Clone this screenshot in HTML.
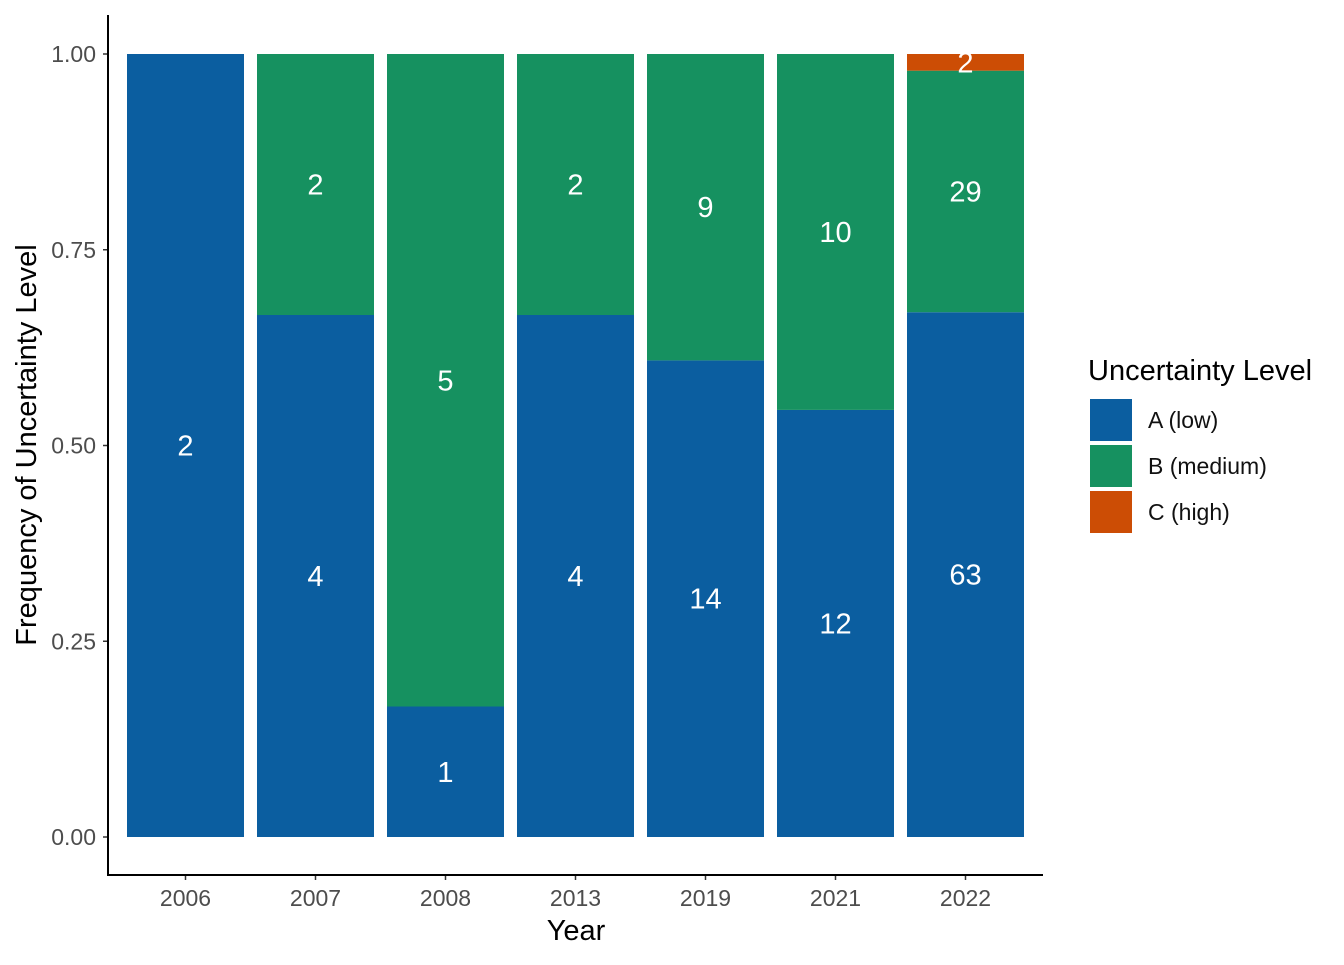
<!DOCTYPE html>
<html><head><meta charset="utf-8"><style>
body{margin:0;background:#fff}
text{font-family:"Liberation Sans",Arial,sans-serif}
</style></head><body>
<svg id="chart" width="1344" height="960" xmlns="http://www.w3.org/2000/svg">
<g id="plot"></g>
<line x1="108" y1="15" x2="108" y2="876" stroke="#000" stroke-width="2"/>
<line x1="107" y1="875" x2="1043" y2="875" stroke="#000" stroke-width="2"/>
<text x="576" y="940" font-size="29" text-anchor="middle">Year</text>
<text transform="translate(36,445) rotate(-90)" font-size="29" text-anchor="middle">Frequency of Uncertainty Level</text>
<g>
<text x="1088" y="380" font-size="29">Uncertainty Level</text>
<rect x="1090" y="399" width="42" height="42" fill="#0B5EA0"/>
<text x="1148" y="428" font-size="23" fill="#111">A (low)</text>
<rect x="1090" y="445" width="42" height="42" fill="#169160"/>
<text x="1148" y="474" font-size="23" fill="#111">B (medium)</text>
<rect x="1090" y="491" width="42" height="42" fill="#CC4D05"/>
<text x="1148" y="520" font-size="23" fill="#111">C (high)</text>
</g>
</svg>
<script>
const years=["2006","2007","2008","2013","2019","2021","2022"];
const countA=[2,4,1,4,14,12,63];
const countB=[0,2,5,2,9,10,29];
const countC=[0,0,0,0,0,0,2];
const yTicks=[0,0.25,0.5,0.75,1];
const yTickLabels=["0.00","0.25","0.50","0.75","1.00"];
const NS="http://www.w3.org/2000/svg";
const g=document.getElementById('plot');
const y0=837,yH=783,x0=127,step=130,bw=117;
const yS=v=>y0-v*yH;
const xS=i=>x0+i*step;
function mk(t,a){const e=document.createElementNS(NS,t);for(const k in a)e.setAttribute(k,a[k]);g.appendChild(e);return e;}
yTicks.forEach((t,i)=>{
  const l=mk('line',{x1:103,x2:108,y1:yS(t),y2:yS(t),stroke:'#333','stroke-width':1.5});
  
  
  const tx=mk('text',{x:96,y:yS(t)+8,'font-size':23,'text-anchor':'end',fill:'#4d4d4d'});
  tx.textContent=yTickLabels[i];
  
  
});
const series=[[countA,'#0B5EA0','a'],[countB,'#169160','b'],[countC,'#CC4D05','c']];
years.forEach((yr,i)=>{
  const tot=countA[i]+countB[i]+countC[i];
  let cum=0;
  series.forEach(([arr,col,k])=>{
    const v=arr[i];if(!v)return;
    const f0=cum/tot,f1=(cum+v)/tot;cum+=v;
    const r=mk('rect',{x:xS(i),y:yS(f1),width:bw,height:yS(f0)-yS(f1),fill:col});
    
    
    const t=mk('text',{x:xS(i)+bw/2,y:yS((f0+f1)/2)+10,'font-size':29,'text-anchor':'middle',fill:'#fff'});
    t.textContent=v;
    
    
  });
  const cx=xS(i)+bw/2;
  const tk=mk('line',{x1:cx,x2:cx,y1:875,y2:880,stroke:'#333','stroke-width':1.5});
  
  
  const lb=mk('text',{x:cx,y:906,'font-size':23,'text-anchor':'middle',fill:'#4d4d4d'});
  lb.textContent=yr;
  
  
});
</script>
</body></html>
